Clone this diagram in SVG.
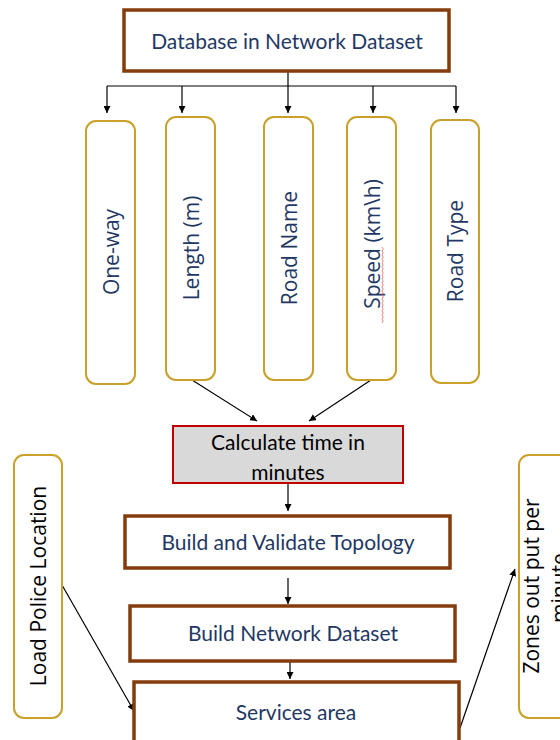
<svg xmlns="http://www.w3.org/2000/svg" width="560" height="740" viewBox="0 0 560 740">
  <style>
    .brown { fill: #ffffff; stroke: #843C0C; stroke-width: 3.5; }
    .gold { fill: #ffffff; stroke: #C9A12A; stroke-width: 2; }
    .calc { fill: #D9D9D9; stroke: #C00000; stroke-width: 2; }
    .lbl { font-family: Lato, "Liberation Sans", sans-serif; font-size: 21px; fill: #1F3864; text-anchor: middle; dominant-baseline: central; }
    .vlbl { font-family: "Open Sans", "Liberation Sans", sans-serif; font-size: 21px; fill: #1F3864; text-anchor: middle; dominant-baseline: central; }
    .blk { fill: #000000; }
    .conn { fill: none; stroke: #000000; stroke-width: 1.2; }
  </style>
  <defs>
    <marker id="arrow" viewBox="0 0 10 10" refX="10" refY="5" markerWidth="7" markerHeight="7" markerUnits="userSpaceOnUse" orient="auto">
      <path d="M0,0 L10,5 L0,10 z" fill="#000000"/>
    </marker>
  </defs>
  <rect width="560" height="740" fill="#ffffff"/>

  <g id="connectors">
    <path class="conn" d="M288,58 V113" marker-end="url(#arrow)"/>
    <path class="conn" d="M107,86 H456"/>
    <path class="conn" d="M107,86 V113" marker-end="url(#arrow)"/>
    <path class="conn" d="M182,86 V113" marker-end="url(#arrow)"/>
    <path class="conn" d="M373,86 V113" marker-end="url(#arrow)"/>
    <path class="conn" d="M456,86 V113" marker-end="url(#arrow)"/>
    <path class="conn" d="M192,380 L257,421" marker-end="url(#arrow)"/>
    <path class="conn" d="M371,380 L309,421" marker-end="url(#arrow)"/>
    <path class="conn" d="M288,484 V511" marker-end="url(#arrow)"/>
    <path class="conn" d="M288,578 V604" marker-end="url(#arrow)"/>
    <path class="conn" d="M290,662 V679" marker-end="url(#arrow)"/>
    <path class="conn" d="M62,585 L134,711" marker-end="url(#arrow)"/>
    <path class="conn" d="M460,728 L515,569" marker-end="url(#arrow)"/>
  </g>

  <g id="database">
    <rect class="brown" x="124" y="10" width="325" height="61"/>
    <text class="lbl" x="287" y="40">Database in Network Dataset</text>
  </g>

  <g id="one-way">
    <rect class="gold" x="86" y="121" width="49" height="263" rx="10"/>
    <text class="vlbl" transform="translate(111,252) rotate(-90)">One-way</text>
  </g>
  <g id="length">
    <rect class="gold" x="166" y="117" width="49" height="263" rx="10"/>
    <text class="vlbl" transform="translate(191,248) rotate(-90)">Length (m)</text>
  </g>
  <g id="road-name">
    <rect class="gold" x="264" y="117" width="49" height="263" rx="10"/>
    <text class="vlbl" transform="translate(289,248) rotate(-90)">Road Name</text>
  </g>
  <g id="speed">
    <rect class="gold" x="347" y="117" width="49" height="263" rx="10"/>
    <text class="vlbl" transform="translate(372,244) rotate(-90)">Speed (km\h)</text>
    <path d="M382,323 l1.2,-2 l-1.2,-2 l1.2,-2 l-1.2,-2 l1.2,-2 l-1.2,-2 l1.2,-2 l-1.2,-2 l1.2,-2 l-1.2,-2 l1.2,-2 l-1.2,-2 l1.2,-2 l-1.2,-2 l1.2,-2 l-1.2,-2 l1.2,-2 l-1.2,-2 l1.2,-2 l-1.2,-2 l1.2,-2 l-1.2,-2 l1.2,-2 l-1.2,-2 l1.2,-2 l-1.2,-2 l1.2,-2 l-1.2,-2 l1.2,-2 l-1.2,-2 l1.2,-2 l-1.2,-2 l1.2,-2 l-1.2,-2 l1.2,-2 l-1.2,-2 l1.2,-2 l-1.2,-2" fill="none" stroke="#F06060" stroke-width="0.8"/>
  </g>
  <g id="road-type">
    <rect class="gold" x="431" y="120" width="48" height="263" rx="10"/>
    <text class="vlbl" transform="translate(455,251) rotate(-90)">Road Type</text>
  </g>

  <g id="calculate-time">
    <rect class="calc" x="173" y="426" width="230" height="57"/>
    <text class="lbl blk" x="288" y="441">Calculate time in</text>
    <text class="lbl blk" x="288" y="471">minutes</text>
  </g>

  <g id="build-topology">
    <rect class="brown" x="125" y="516" width="325" height="52"/>
    <text class="lbl" x="288" y="541">Build and Validate Topology</text>
  </g>

  <g id="build-network">
    <rect class="brown" x="130" y="606" width="325" height="55"/>
    <text class="lbl" x="293" y="632">Build Network Dataset</text>
  </g>

  <g id="services-area">
    <rect class="brown" x="134" y="682" width="325" height="70"/>
    <text class="lbl" x="296" y="711">Services area</text>
  </g>

  <g id="police-location">
    <rect class="gold" x="14" y="455" width="48" height="263" rx="10"/>
    <text class="vlbl blk" transform="translate(38,586) rotate(-90)">Load Police Location</text>
  </g>

  <g id="zones-output">
    <rect class="gold" x="519" y="455" width="60" height="263" rx="10"/>
    <text class="vlbl blk" transform="translate(531,586) rotate(-90)">Zones out put per</text>
    <text class="vlbl blk" transform="translate(559,588) rotate(-90)">minute</text>
  </g>
</svg>
